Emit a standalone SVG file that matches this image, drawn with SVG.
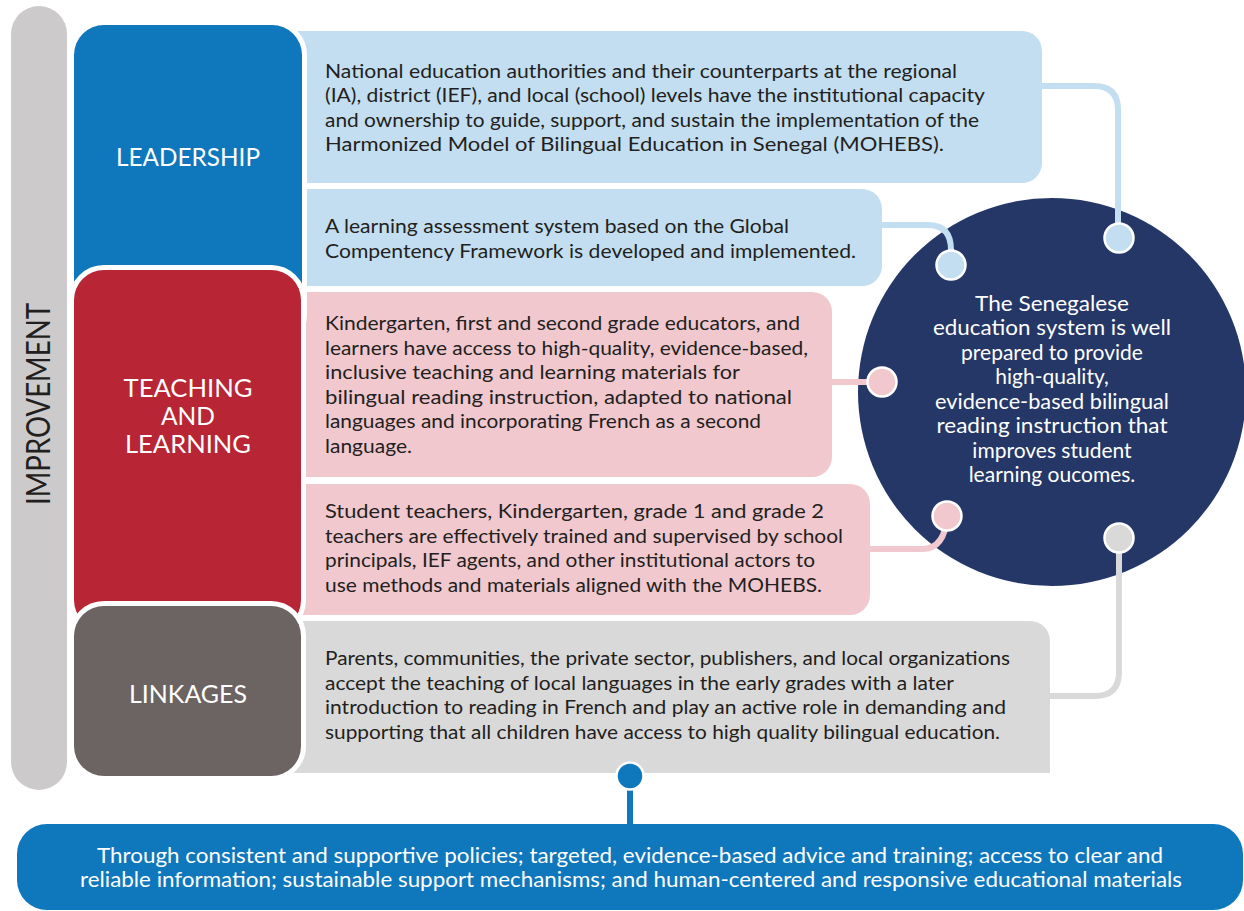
<svg xmlns="http://www.w3.org/2000/svg" width="1244" height="911" viewBox="0 0 1244 911">
  <defs>
    <style>
      .t { font-family: "Lato", "Liberation Sans", sans-serif; font-size: 19.5px; fill: #231F20; }
      .h { font-family: "Lato", "Liberation Sans", sans-serif; font-size: 25px; fill: #FFFFFF; text-anchor: middle; }
      .c { font-family: "Lato", "Liberation Sans", sans-serif; font-size: 21px; fill: #FFFFFF; text-anchor: middle; }
      .b { font-family: "Lato", "Liberation Sans", sans-serif; font-size: 21px; fill: #FFFFFF; text-anchor: middle; }
      .head { stroke: #FFFFFF; stroke-width: 10; paint-order: stroke; }
      .conn { fill: none; stroke-width: 6; stroke-linecap: butt; }
      .dot { stroke: #FFFFFF; stroke-width: 2.5; }
    </style>
  </defs>

  <!-- Improvement bar -->
  <g id="improvement">
    <rect x="11" y="6" width="56" height="784" rx="28" fill="#CCCACB"/>
    <text class="h" transform="translate(50,404) rotate(-90)" style="font-size:32px;fill:#231F20" textLength="202" lengthAdjust="spacingAndGlyphs">IMPROVEMENT</text>
  </g>

  <!-- Outcome panels (left edges tuck under the header boxes) -->
  <g id="panel-leadership-1">
    <path d="M280 31 H1022 A20 20 0 0 1 1042 51 V163 A20 20 0 0 1 1022 183 H280 Z" fill="#C2DEF0"/>
    <text class="t" x="325" y="77.5" textLength="632" lengthAdjust="spacingAndGlyphs">National education authorities and their counterparts at the regional</text>
    <text class="t" x="325" y="102" textLength="660" lengthAdjust="spacingAndGlyphs">(IA), district (IEF), and local (school) levels have the institutional capacity</text>
    <text class="t" x="325" y="126.5" textLength="654" lengthAdjust="spacingAndGlyphs">and ownership to guide, support, and sustain the implementation of the</text>
    <text class="t" x="325" y="151" textLength="619" lengthAdjust="spacingAndGlyphs">Harmonized Model of Bilingual Education in Senegal (MOHEBS).</text>
  </g>
  <g id="panel-leadership-2">
    <path d="M280 189 H862 A20 20 0 0 1 882 209 V266 A20 20 0 0 1 862 286 H280 Z" fill="#C2DEF0"/>
    <text class="t" x="325" y="233.3" textLength="464" lengthAdjust="spacingAndGlyphs">A learning assessment system based on the Global</text>
    <text class="t" x="325" y="257.8" textLength="531" lengthAdjust="spacingAndGlyphs">Compentency Framework is developed and implemented.</text>
  </g>
  <g id="panel-teaching-1">
    <path d="M280 292 H812 A20 20 0 0 1 832 312 V457 A20 20 0 0 1 812 477 H280 Z" fill="#F0C8CE"/>
    <text class="t" x="325" y="330" textLength="475" lengthAdjust="spacingAndGlyphs">Kindergarten, first and second grade educators, and</text>
    <text class="t" x="325" y="354.5" textLength="483" lengthAdjust="spacingAndGlyphs">learners have access to high-quality, evidence-based,</text>
    <text class="t" x="325" y="379" textLength="415" lengthAdjust="spacingAndGlyphs">inclusive teaching and learning materials for</text>
    <text class="t" x="325" y="403.5" textLength="467" lengthAdjust="spacingAndGlyphs">bilingual reading instruction, adapted to national</text>
    <text class="t" x="325" y="428" textLength="436" lengthAdjust="spacingAndGlyphs">languages and incorporating French as a second</text>
    <text class="t" x="325" y="452.5" textLength="87" lengthAdjust="spacingAndGlyphs">language.</text>
  </g>
  <g id="panel-teaching-2">
    <path d="M280 484 H850 A20 20 0 0 1 870 504 V595 A20 20 0 0 1 850 615 H280 Z" fill="#F0C8CE"/>
    <text class="t" x="325" y="518" textLength="499" lengthAdjust="spacingAndGlyphs">Student teachers, Kindergarten, grade 1 and grade 2</text>
    <text class="t" x="325" y="542.5" textLength="518" lengthAdjust="spacingAndGlyphs">teachers are effectively trained and supervised by school</text>
    <text class="t" x="325" y="567" textLength="490" lengthAdjust="spacingAndGlyphs">principals, IEF agents, and other institutional actors to</text>
    <text class="t" x="325" y="591.5" textLength="497" lengthAdjust="spacingAndGlyphs">use methods and materials aligned with the MOHEBS.</text>
  </g>
  <g id="panel-linkages">
    <path d="M280 621 H1030 A20 20 0 0 1 1050 641 V773 H280 Z" fill="#D9D9D9"/>
    <text class="t" x="325" y="665" textLength="685" lengthAdjust="spacingAndGlyphs">Parents, communities, the private sector, publishers, and local organizations</text>
    <text class="t" x="325" y="689.5" textLength="629" lengthAdjust="spacingAndGlyphs">accept the teaching of local languages in the early grades with a later</text>
    <text class="t" x="325" y="714" textLength="681" lengthAdjust="spacingAndGlyphs">introduction to reading in French and play an active role in demanding and</text>
    <text class="t" x="325" y="738.5" textLength="675" lengthAdjust="spacingAndGlyphs">supporting that all children have access to high quality bilingual education.</text>
  </g>

  <!-- Domain headers -->
  <g id="header-leadership">
    <rect class="head" x="74" y="25" width="228" height="320" rx="30" fill="#0F77BC"/>
    <text class="h" x="188" y="166" textLength="144" lengthAdjust="spacingAndGlyphs">LEADERSHIP</text>
  </g>
  <g id="header-teaching">
    <rect class="head" x="74" y="270" width="227" height="360" rx="30" fill="#B82535"/>
    <text class="h" x="188" y="396.7" textLength="129" lengthAdjust="spacingAndGlyphs">TEACHING</text>
    <text class="h" x="188" y="425" textLength="54" lengthAdjust="spacingAndGlyphs">AND</text>
    <text class="h" x="188" y="452.7" textLength="126" lengthAdjust="spacingAndGlyphs">LEARNING</text>
  </g>
  <g id="header-linkages">
    <rect class="head" x="74" y="606" width="227" height="170" rx="30" fill="#6B6462"/>
    <text class="h" x="188" y="703.3" textLength="118" lengthAdjust="spacingAndGlyphs">LINKAGES</text>
  </g>

  <!-- Goal circle -->
  <g id="goal">
    <circle cx="1052" cy="392" r="194" fill="#243767"/>
    <text class="c" x="1052" y="311" textLength="154" lengthAdjust="spacingAndGlyphs">The Senegalese</text>
    <text class="c" x="1052" y="335" textLength="238" lengthAdjust="spacingAndGlyphs">education system is well</text>
    <text class="c" x="1052" y="360">prepared to provide</text>
    <text class="c" x="1052" y="384">high-quality,</text>
    <text class="c" x="1052" y="408.5" textLength="234" lengthAdjust="spacingAndGlyphs">evidence-based bilingual</text>
    <text class="c" x="1052" y="433" textLength="231" lengthAdjust="spacingAndGlyphs">reading instruction that</text>
    <text class="c" x="1052" y="457.5">improves student</text>
    <text class="c" x="1052" y="482">learning oucomes.</text>
  </g>

  <!-- Cross-cutting approach -->
  <g id="approach">
    <rect x="17" y="824" width="1226" height="86" rx="30" fill="#0F77BC"/>
    <text class="b" x="630" y="863" textLength="1066" lengthAdjust="spacingAndGlyphs">Through consistent and supportive policies; targeted, evidence-based advice and training; access to clear and</text>
    <text class="b" x="631" y="887" textLength="1102" lengthAdjust="spacingAndGlyphs">reliable information; sustainable support mechanisms; and human-centered and responsive educational materials</text>
  </g>

  <!-- Connectors -->
  <g id="connectors">
    <path class="conn" stroke="#C2DEF0" d="M1040 86 H1094 Q1118 86 1118 110 V238"/>
    <circle class="dot" cx="1119" cy="238" r="14.5" fill="#C2DEF0"/>
    <path class="conn" stroke="#C2DEF0" d="M880 225 H928 Q951 225 951 250 V265"/>
    <circle class="dot" cx="951" cy="265" r="14.5" fill="#C2DEF0"/>
    <path class="conn" stroke="#F0C8CE" d="M830 382 H880"/>
    <circle class="dot" cx="882" cy="382" r="14.5" fill="#F0C8CE"/>
    <path class="conn" stroke="#F0C8CE" d="M868 549 H922 Q945 549 947 516"/>
    <circle class="dot" cx="947" cy="516" r="14.5" fill="#F0C8CE"/>
    <path class="conn" stroke="#D9D9D9" d="M1119 538 V672 Q1119 696 1095 696 H1048"/>
    <circle class="dot" cx="1119" cy="538" r="14.5" fill="#D9D9D9"/>
    <path class="conn" stroke="#0F77BC" stroke-width="5" d="M630 776 V826"/>
    <circle class="dot" cx="630" cy="776" r="13.5" fill="#0F77BC"/>
  </g>
</svg>
